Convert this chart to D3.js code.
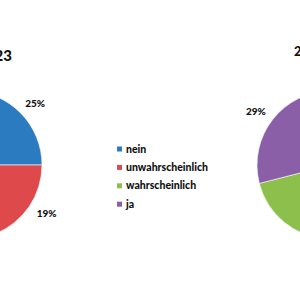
<!DOCTYPE html>
<html>
<head>
<meta charset="utf-8">
<script src="https://cdn.jsdelivr.net/npm/d3@7"></script>
<style>
  body { margin: 0; background: #fff; }
  svg text { font-family: Lato, "Liberation Sans", sans-serif; font-weight: 900; fill: #111; }
</style>
</head>
<body>
<svg id="chart" width="300" height="300"></svg>
<script>
// categories and colours
let categories = ['nein', 'unwahrscheinlich', 'wahrscheinlich', 'ja']
let colors = ['#2b7bc0', '#de4a4c', '#8cbf4b', '#8b5ea8']

// left pie (2023) - only nein and unwahrscheinlich are visible
let values2023 = [25, 19, 30, 26]
// right pie - only ja is visible
let values2022 = [15, 16, 40, 29]

let titles = ['2023', '2022']

let svg = d3.select('#chart')
let radius = 74

let color = d3.scaleOrdinal().domain(categories).range(colors)

let pie = d3.pie().sort(null).value(d => d.value)
let arc = d3.arc().innerRadius(0).outerRadius(radius)

let drawPie = (values, cx, cy) => {
    let data = categories.map((c, i) => ({ name: c, value: values[i] }))
    let g = svg.append('g').attr('transform', 'translate(' + cx + ',' + cy + ')')

    g.selectAll('path')
        .data(pie(data))
        .enter()
        .append('path')
        .attr('d', arc)
        .attr('fill', d => color(d.data.name))
        .attr('stroke', '#fff')
        .attr('stroke-width', 0.6)

    // labels outside the slices
    g.selectAll('text')
        .data(pie(data))
        .enter()
        .append('text')
        .attr('x', d => {
            let a = (d.startAngle + d.endAngle) / 2
            return Math.sin(a) * (radius + 14) + Math.sin(a) * 7
        })
        .attr('y', d => {
            let a = (d.startAngle + d.endAngle) / 2
            return -Math.cos(a) * (radius + 13)
        })
        .attr('dy', '0.35em')
        .attr('text-anchor', 'middle')
        .style('font-size', '10px')
        .text(d => d.data.value + '%')
}

drawPie(values2023, -32, 165)
drawPie(values2022, 331, 165)

// titles
svg.append('text')
    .attr('x', 12).attr('y', 61)
    .attr('text-anchor', 'end')
    .style('font-size', '15px')
    .text(titles[0])

svg.append('text')
    .attr('x', 294).attr('y', 56)
    .attr('text-anchor', 'start')
    .style('font-size', '13px')
    .text(titles[1])

// legend
let legend = svg.append('g').attr('transform', 'translate(117,149)')
let rows = legend.selectAll('g')
    .data(categories)
    .enter()
    .append('g')
    .attr('transform', (d, i) => 'translate(0,' + (i * 18.4) + ')')

rows.append('rect')
    .attr('x', 0).attr('y', -2.5)
    .attr('width', 5).attr('height', 5)
    .attr('fill', d => color(d))

rows.append('text')
    .attr('x', 9).attr('y', 0)
    .attr('dy', '0.35em')
    .style('font-size', '10.5px')
    .text(d => d)
</script>
</body>
</html>
